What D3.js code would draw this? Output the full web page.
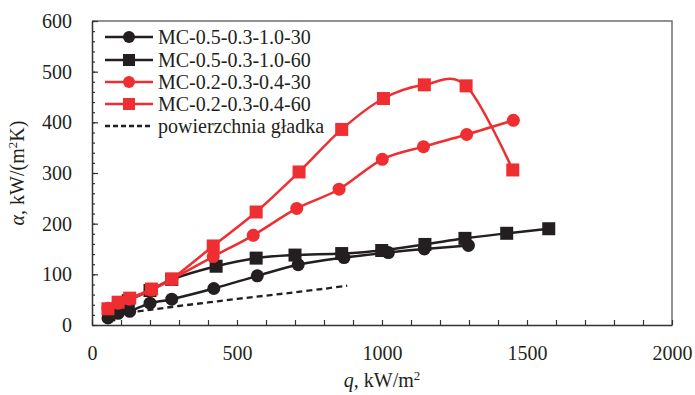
<!DOCTYPE html>
<html>
<head>
<meta charset="utf-8">
<script src="https://cdn.jsdelivr.net/npm/d3@7"></script>
<style>
  body { margin: 0; background: #fff; }
  svg text { font-family: 'Liberation Serif', serif; fill: #231f20; }
</style>
</head>
<body>
<div id="vis"></div>
<script>
// declare constants
const FRAME_WIDTH = 695;
const FRAME_HEIGHT = 395;
const MARGINS = {left: 92, right: 23, top: 21, bottom: 70};
const VIS_WIDTH = FRAME_WIDTH - MARGINS.left - MARGINS.right;
const VIS_HEIGHT = FRAME_HEIGHT - MARGINS.top - MARGINS.bottom;

const RED = "#ee2e31";
const BLACK = "#231f20";
const SERIF = "'Liberation Serif', serif";

// data (q in kW/m2, alpha in kW/(m2K))
const legendNames = ["MC-0.5-0.3-1.0-30", "MC-0.5-0.3-1.0-60", "MC-0.2-0.3-0.4-30", "MC-0.2-0.3-0.4-60", "powierzchnia gładka"];

const q_black30 = [55, 90, 130, 200, 275, 420, 570, 711, 869, 1022, 1146, 1298];
const a_black30 = [14, 23, 27, 43, 51, 72, 97, 119, 133, 143, 150, 157];

const q_black60 = [58, 92, 125, 200, 275, 428, 566, 700, 861, 999, 1148, 1286, 1430, 1575];
const a_black60 = [20, 33, 48, 68, 90, 116, 132, 138, 141, 147, 159, 171, 181, 190];

const q_red30 = [55, 90, 130, 205, 275, 418, 556, 706, 852, 1001, 1143, 1292, 1453];
const a_red30 = [33, 43, 51, 69, 90, 135, 177, 230, 268, 327, 352, 376, 404];

const q_red60 = [55, 90, 130, 205, 275, 418, 566, 714, 861, 1005, 1146, 1290, 1451];
const a_red60 = [32, 45, 53, 71, 91, 156, 223, 302, 386, 447, 474, 472, 306];

const q_smooth = [55, 100, 200, 300, 400, 500, 600, 700, 800, 880];
const a_smooth = [17, 22, 30, 37.5, 44.5, 51.5, 58, 64.5, 71.5, 77.5];

const xTicks = [0, 500, 1000, 1500, 2000];
const yTicks = [0, 100, 200, 300, 400, 500, 600];

const series = [
  {q: q_black30, a: a_black30, color: BLACK, marker: "circle"},
  {q: q_black60, a: a_black60, color: BLACK, marker: "square"},
  {q: q_red30, a: a_red30, color: RED, marker: "circle"},
  {q: q_red60, a: a_red60, color: RED, marker: "square"}
];

// make the frame
const FRAME = d3.select("#vis")
  .append("svg")
    .attr("width", FRAME_WIDTH)
    .attr("height", FRAME_HEIGHT)
    .style("font-family", SERIF);

const g = FRAME.append("g")
  .attr("transform", "translate(" + MARGINS.left + "," + MARGINS.top + ")");

const x = d3.scaleLinear().domain([0, 2000]).range([0, VIS_WIDTH]);
const y = d3.scaleLinear().domain([0, 600]).range([VIS_HEIGHT, 0]);

// top and right border (grey)
g.append("path")
  .attr("d", "M0,0H" + VIS_WIDTH + "V" + VIS_HEIGHT)
  .attr("fill", "none")
  .attr("stroke", "#6d6e71")
  .attr("stroke-width", 1.5);

// y axis: minor ticks then major ticks with labels
g.append("g")
  .call(d3.axisLeft(y).tickValues(d3.range(0, 601, 20)).tickSize(-3).tickFormat(""))
  .call(a => a.select(".domain").remove())
  .selectAll("line").attr("stroke", "#333").attr("stroke-width", 1.2);

const yAxis = g.append("g")
  .call(d3.axisLeft(y).tickValues(yTicks).tickSize(-6).tickPadding(20).tickSizeOuter(0))
  .attr("font-family", SERIF);
yAxis.select(".domain").attr("stroke", "#333").attr("stroke-width", 1.5);
yAxis.selectAll("line").attr("stroke", "#333").attr("stroke-width", 1.2);
yAxis.selectAll("text").attr("font-size", 20).attr("fill", BLACK)
  .style("font-family", SERIF);

// x axis
const xAxis = g.append("g")
  .attr("transform", "translate(0," + VIS_HEIGHT + ")")
  .call(d3.axisBottom(x).tickValues(d3.range(0, 2001, 100)).tickSize(-5).tickSizeOuter(0)
    .tickFormat(d => xTicks.includes(d) ? d : "").tickPadding(21))
  .attr("font-family", SERIF);
xAxis.select(".domain").attr("stroke", "#333").attr("stroke-width", 1.5);
xAxis.selectAll("line").attr("stroke", "#333").attr("stroke-width", 1.2);
xAxis.selectAll("text").attr("font-size", 20).attr("fill", BLACK)
  .style("font-family", SERIF);

// smoothed lines like the spreadsheet
const line = d3.line()
  .x(d => x(d[0]))
  .y(d => y(d[1]))
  .curve(d3.curveCatmullRom.alpha(0));

// dashed reference line
g.append("path")
  .datum(d3.zip(q_smooth, a_smooth))
  .attr("d", line)
  .attr("fill", "none")
  .attr("stroke", BLACK)
  .attr("stroke-width", 2.3)
  .attr("stroke-dasharray", "6,4");

function drawMarker(sel, type, size, color) {
  if (type === "circle") {
    sel.append("circle").attr("r", size / 2).attr("fill", color);
  } else {
    sel.append("rect")
      .attr("x", -size / 2).attr("y", -size / 2)
      .attr("width", size).attr("height", size)
      .attr("fill", color);
  }
}

series.forEach(s => {
  const pts = d3.zip(s.q, s.a);
  g.append("path")
    .datum(pts)
    .attr("d", line)
    .attr("fill", "none")
    .attr("stroke", s.color)
    .attr("stroke-width", 2.5);
  g.selectAll(null)
    .data(pts)
    .enter()
    .append("g")
      .attr("transform", d => "translate(" + x(d[0]) + "," + y(d[1]) + ")")
      .each(function() { drawMarker(d3.select(this), s.marker, 13, s.color); });
});

// legend
const legendRows = [37, 60, 82, 104, 126];
const legend = FRAME.append("g").attr("transform", "translate(105,0)");
legendNames.forEach((name, i) => {
  const row = legend.append("g").attr("transform", "translate(0," + legendRows[i] + ")");
  const s = series[i];
  row.append("line")
    .attr("x1", 0).attr("x2", 48)
    .attr("stroke", s ? s.color : BLACK)
    .attr("stroke-width", s ? 2.5 : 2.3)
    .attr("stroke-dasharray", s ? null : "5,3");
  if (s) {
    const m = row.append("g").attr("transform", "translate(24,0)");
    drawMarker(m, s.marker, 12, s.color);
  }
  row.append("text")
    .attr("x", 53)
    .attr("dy", "0.35em")
    .attr("font-size", 20)
    .style("font-family", SERIF)
    .text(name);
});

// axis titles
const yTitle = FRAME.append("text")
  .attr("transform", "translate(24," + (MARGINS.top + VIS_HEIGHT / 2) + ") rotate(-90)")
  .attr("text-anchor", "middle")
  .attr("font-size", 20)
  .style("font-family", SERIF);
yTitle.append("tspan").attr("font-style", "italic").text("α");
yTitle.append("tspan").text(", kW/(m");
yTitle.append("tspan").attr("font-size", 13).attr("dy", -7).text("2");
yTitle.append("tspan").attr("dy", 7).text("K)");

const xTitle = FRAME.append("text")
  .attr("x", MARGINS.left + VIS_WIDTH / 2)
  .attr("y", 387)
  .attr("text-anchor", "middle")
  .attr("font-size", 20)
  .style("font-family", SERIF);
xTitle.append("tspan").attr("font-style", "italic").text("q");
xTitle.append("tspan").text(", kW/m");
xTitle.append("tspan").attr("font-size", 13).attr("dy", -7).text("2");
</script>
</body>
</html>
